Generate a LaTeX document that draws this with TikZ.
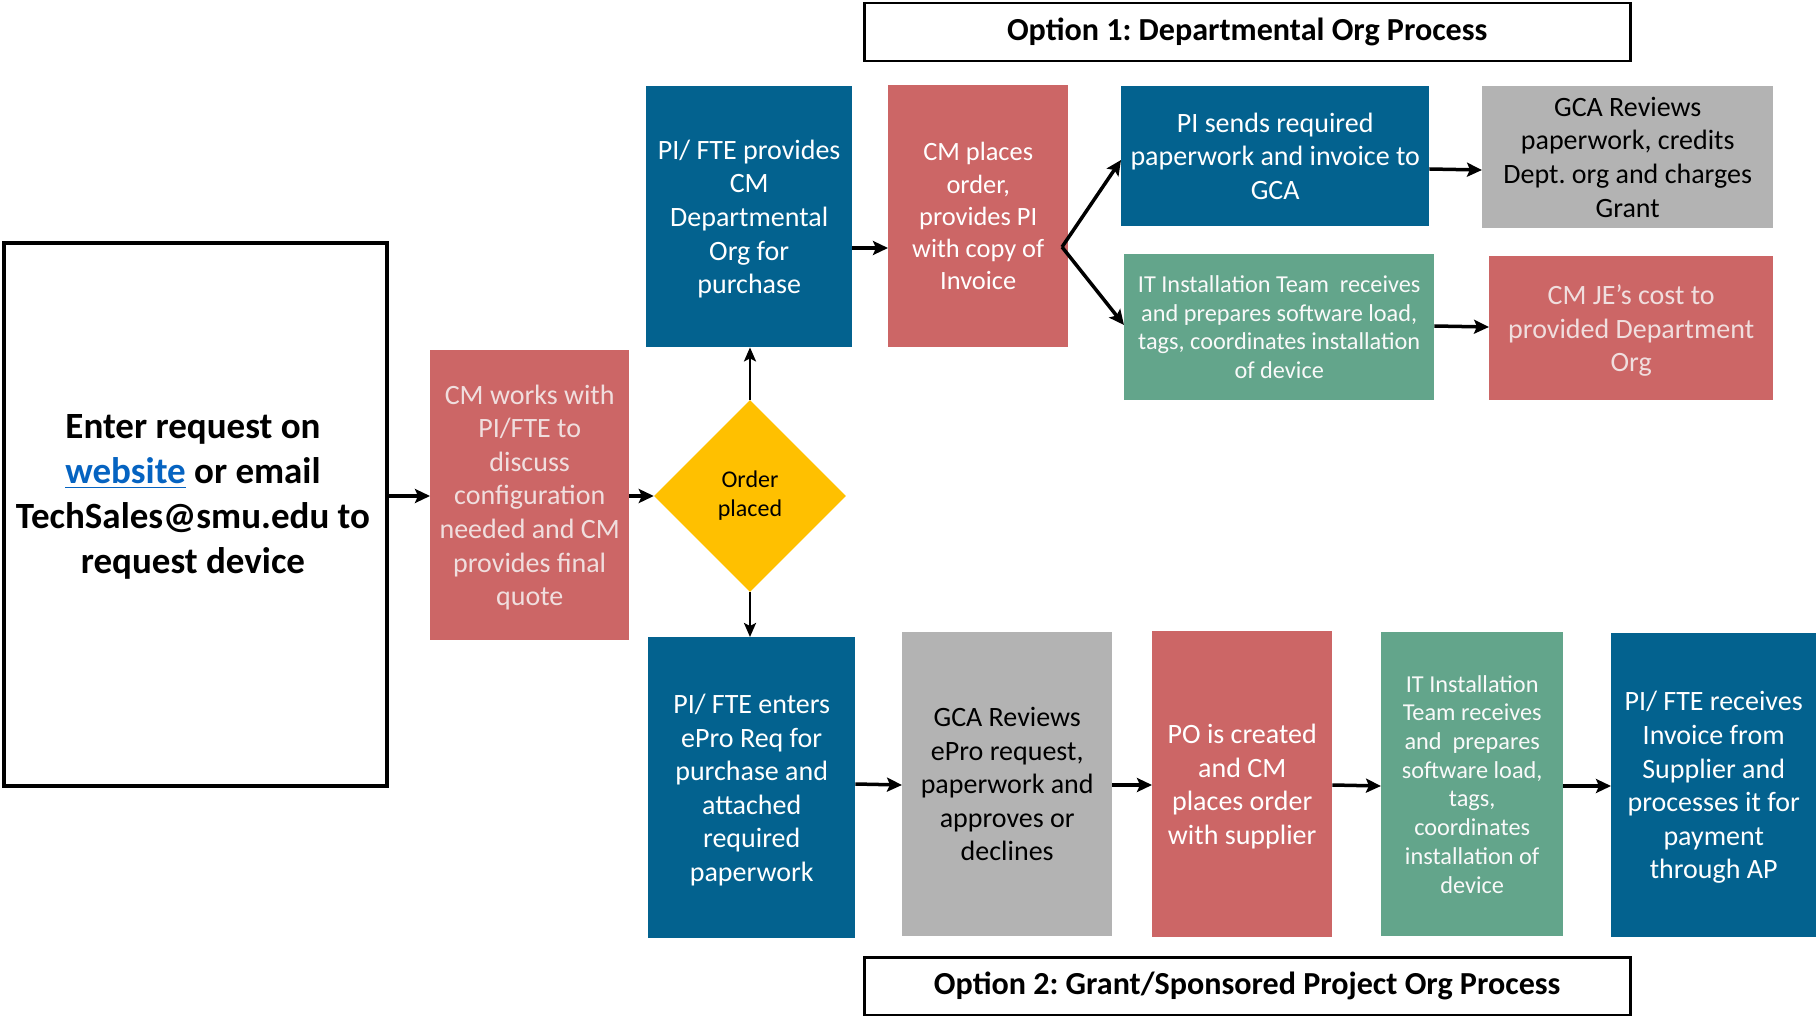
\documentclass[tikz,border=0pt]{standalone}
\usepackage{amsmath}
\usepackage{fontspec}
\setmainfont{Carlito}
\frenchspacing
\usetikzlibrary{arrows.meta,shapes.geometric}
\definecolor{cblue}{HTML}{03628F}
\definecolor{cred}{HTML}{CC6666}
\definecolor{cgray}{HTML}{B3B3B3}
\definecolor{cgreen}{HTML}{63A58B}
\definecolor{cyellow}{HTML}{FFC000}
\definecolor{cpink}{HTML}{F0DEDE}
\definecolor{clink}{HTML}{0563C1}
\newcommand{\nd}[1]{\smash[b]{#1}}
\tikzset{
  pbox/.style={rectangle, inner sep=0pt, anchor=north west, align=center,
    font=\fontsize{28}{33.6}\selectfont},
  sbox/.style={pbox, font=\fontsize{24.3}{28.7}\selectfont},
  ttl/.style={rectangle, draw=black, line width=2.5pt, inner sep=0pt, anchor=north west,
    font=\bfseries\fontsize{32.1}{38}\selectfont},
  arr/.style={line width=3.5pt, -{Stealth[length=15pt,width=14pt,inset=3pt]}},
  varr/.style={line width=2.5pt, -{Stealth[length=14pt,width=12pt,inset=3pt]}},
}
\begin{document}
\begin{tikzpicture}[x=1pt,y=1pt]
\useasboundingbox (0,0) rectangle (1816,-1016);
% titles
\node[ttl, minimum width=766pt, minimum height=58pt] (opt1) at (863,-2) {Option 1: Departmental Org Process};
\node[ttl, minimum width=766pt, minimum height=58pt] (opt2) at (863,-956) {Option 2: Grant/Sponsored Project Org Process};
% big box
\node[rectangle, draw=black, line width=4pt, inner sep=0pt, anchor=north west,
  minimum width=383pt, minimum height=543pt] (big) at (2,-241) {};
\node[align=center, font=\bfseries\fontsize{37}{45}\selectfont] (bigtxt) at (193,-494.5)
  {Enter request on\\ {\color{clink}\underline{website}} or email\\ TechSales@smu.edu to\\ \nd{request device}};
% CM works
\node[pbox, fill=cred, text=cpink, minimum width=199pt, minimum height=290pt] (cmw) at (430,-350)
  {CM works with\\ PI/FTE to\\ discuss\\ configuration\\ needed and CM\\ provides final\\ \nd{quote}};
% diamond
\node[diamond, aspect=1, fill=cyellow, inner sep=0pt, minimum width=192pt, minimum height=192pt,
  align=center, font=\fontsize{24}{29}\selectfont] (dia) at (750,-496) {Order\\ placed};
% top row
\node[pbox, fill=cblue, text=white, minimum width=206pt, minimum height=261pt] (prov) at (646,-86)
  {PI/ FTE provides\\ CM\\ Departmental\\ Org for\\ \nd{purchase}};
\node[pbox, fill=cred, text=white, minimum width=180pt, minimum height=262pt,
  font=\fontsize{26.4}{32.2}\selectfont] (cmpl) at (888,-85)
  {CM places\\ order,\\ provides PI\\ with copy of\\ Invoice};
\node[pbox, fill=cblue, text=white, minimum width=308pt, minimum height=140pt] (pis) at (1121,-86)
  {PI sends required\\ paperwork and invoice to\\ GCA};
\node[pbox, fill=cgray, text=black, minimum width=291pt, minimum height=142pt] (gca1) at (1482,-86)
  {GCA Reviews\\ paperwork, credits\\ Dept. org and charges\\ Grant};
\node[sbox, fill=cgreen, text=white!95!gray, minimum width=310pt, minimum height=146pt] (it1) at (1124,-254)
  {IT Installation Team\ \ receives\\ and prepares software load,\\ tags, coordinates installation\\ of device};
\node[pbox, fill=cred, text=cpink, minimum width=284pt, minimum height=144pt] (je) at (1489,-256)
  {CM JE’s cost to\\ provided Department\\ \nd{Org}};
% bottom row
\node[pbox, fill=cblue, text=white, minimum width=207pt, minimum height=301pt] (ent) at (648,-637)
  {PI/ FTE enters\\ ePro Req for\\ purchase and\\ attached\\ required\\ \nd{paperwork}};
\node[pbox, fill=cgray, text=black, minimum width=210pt, minimum height=304pt] (gca2) at (902,-632)
  {GCA Reviews\\ ePro request,\\ paperwork and\\ approves or\\ declines};
\node[pbox, fill=cred, text=white, minimum width=180pt, minimum height=306pt] (po) at (1152,-631)
  {PO is created\\ and CM\\ places order\\ \nd{with supplier}};
\node[sbox, fill=cgreen, text=white!95!gray, minimum width=182pt, minimum height=304pt] (it2) at (1381,-632)
  {IT Installation\\ Team receives\\ and\ \ prepares\\ software load,\\ tags,\\ coordinates\\ installation of\\ device};
\node[pbox, fill=cblue, text=white, minimum width=205pt, minimum height=304pt] (rcv) at (1611,-633)
  {PI/ FTE receives\\ Invoice from\\ Supplier and\\ processes it for\\ payment\\ \nd{through AP}};
% connectors
\draw[arr] (big.east |- 0,-496) -- (cmw.west |- 0,-496);
\draw[arr] (cmw.east |- 0,-496) -- (dia.west);
\draw[varr] (dia.north) -- (dia.north |- prov.south);
\draw[varr] (dia.south) -- (dia.south |- ent.north);
\draw[arr] (prov.east |- 0,-248) -- (cmpl.west |- 0,-248);
\coordinate (fork) at (1062,-247);
\draw[arr] (fork) -- (pis.west |- 0,-160);
\draw[arr] (fork) -- (it1.west |- 0,-325);
\draw[arr] (pis.east |- 0,-169) -- (gca1.west |- 0,-170);
\draw[arr] (it1.east |- 0,-326) -- (je.west |- 0,-327);
\draw[arr] (ent.east |- 0,-784) -- (gca2.west |- 0,-785);
\draw[arr] (gca2.east |- 0,-785) -- (po.west |- 0,-785);
\draw[arr] (po.east |- 0,-785) -- (it2.west |- 0,-786);
\draw[arr] (it2.east |- 0,-786) -- (rcv.west |- 0,-786);
\end{tikzpicture}
\end{document}
